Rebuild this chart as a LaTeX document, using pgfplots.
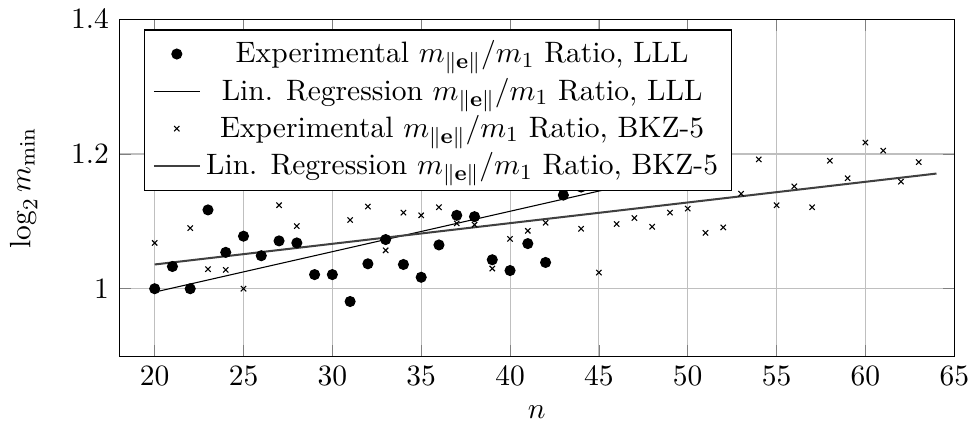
\documentclass[11pt,border=0pt]{standalone}
\usepackage{pgfplots}
\pgfplotsset{compat=1.18}
\begin{document}
\begin{tikzpicture}
\begin{axis}[
  scale only axis,
  width=310pt, height=125pt,
  xmin=18, xmax=65, ymin=0.9, ymax=1.4,
  xtick={20,25,...,65}, ytick={1,1.2,1.4},
  grid=major,
  xlabel={$n$}, ylabel={$\log_2 m_{\min}$},
  ylabel style={yshift=5pt},
  xticklabel style={inner xsep=0pt},
  legend pos=north west,
  legend cell align=center,
  legend style={fill=white, draw=black},
]
\addplot[only marks, mark=*, mark size=1.85pt, black] coordinates {
(20,1.000) (21,1.033) (22,1.000) (23,1.117) (24,1.054) (25,1.078)
(26,1.049) (27,1.071) (28,1.068) (29,1.021) (30,1.021) (31,0.981)
(32,1.037) (33,1.073) (34,1.036) (35,1.017) (36,1.065) (37,1.109)
(38,1.107) (39,1.043) (40,1.027) (41,1.067) (42,1.039) (43,1.139)
(44,1.151) (52,1.353)
};
\addlegendentry{Experimental $m_{\|\mathbf{e}\|}/m_1$ Ratio, LLL}
\addplot[black, thin, no marks] coordinates {(20,0.995) (52,1.187)};
\addlegendentry{Lin. Regression $m_{\|\mathbf{e}\|}/m_1$ Ratio, LLL}
\addplot[only marks, mark=x, mark size=1.4pt, black] coordinates {
(20,1.068) (22,1.090) (23,1.029) (24,1.028) (25,1.000) (27,1.124)
(28,1.093) (31,1.102) (32,1.122) (33,1.057) (34,1.113) (35,1.109)
(36,1.121) (37,1.097) (38,1.095) (39,1.030) (40,1.074) (41,1.086)
(42,1.098) (44,1.089) (45,1.024) (46,1.096) (47,1.105) (48,1.092)
(49,1.113) (50,1.119) (51,1.083) (52,1.091) (53,1.141) (54,1.192)
(55,1.124) (56,1.152) (57,1.121) (58,1.190) (59,1.164) (60,1.217)
(61,1.205) (62,1.159) (63,1.188)
};
\addlegendentry{Experimental $m_{\|\mathbf{e}\|}/m_1$ Ratio, BKZ-5}
\addplot[black!75, line width=0.75pt, no marks] coordinates {(20,1.036) (64,1.171)};
\addlegendentry{Lin. Regression $m_{\|\mathbf{e}\|}/m_1$ Ratio, BKZ-5}
\end{axis}
\end{tikzpicture}
\end{document}
